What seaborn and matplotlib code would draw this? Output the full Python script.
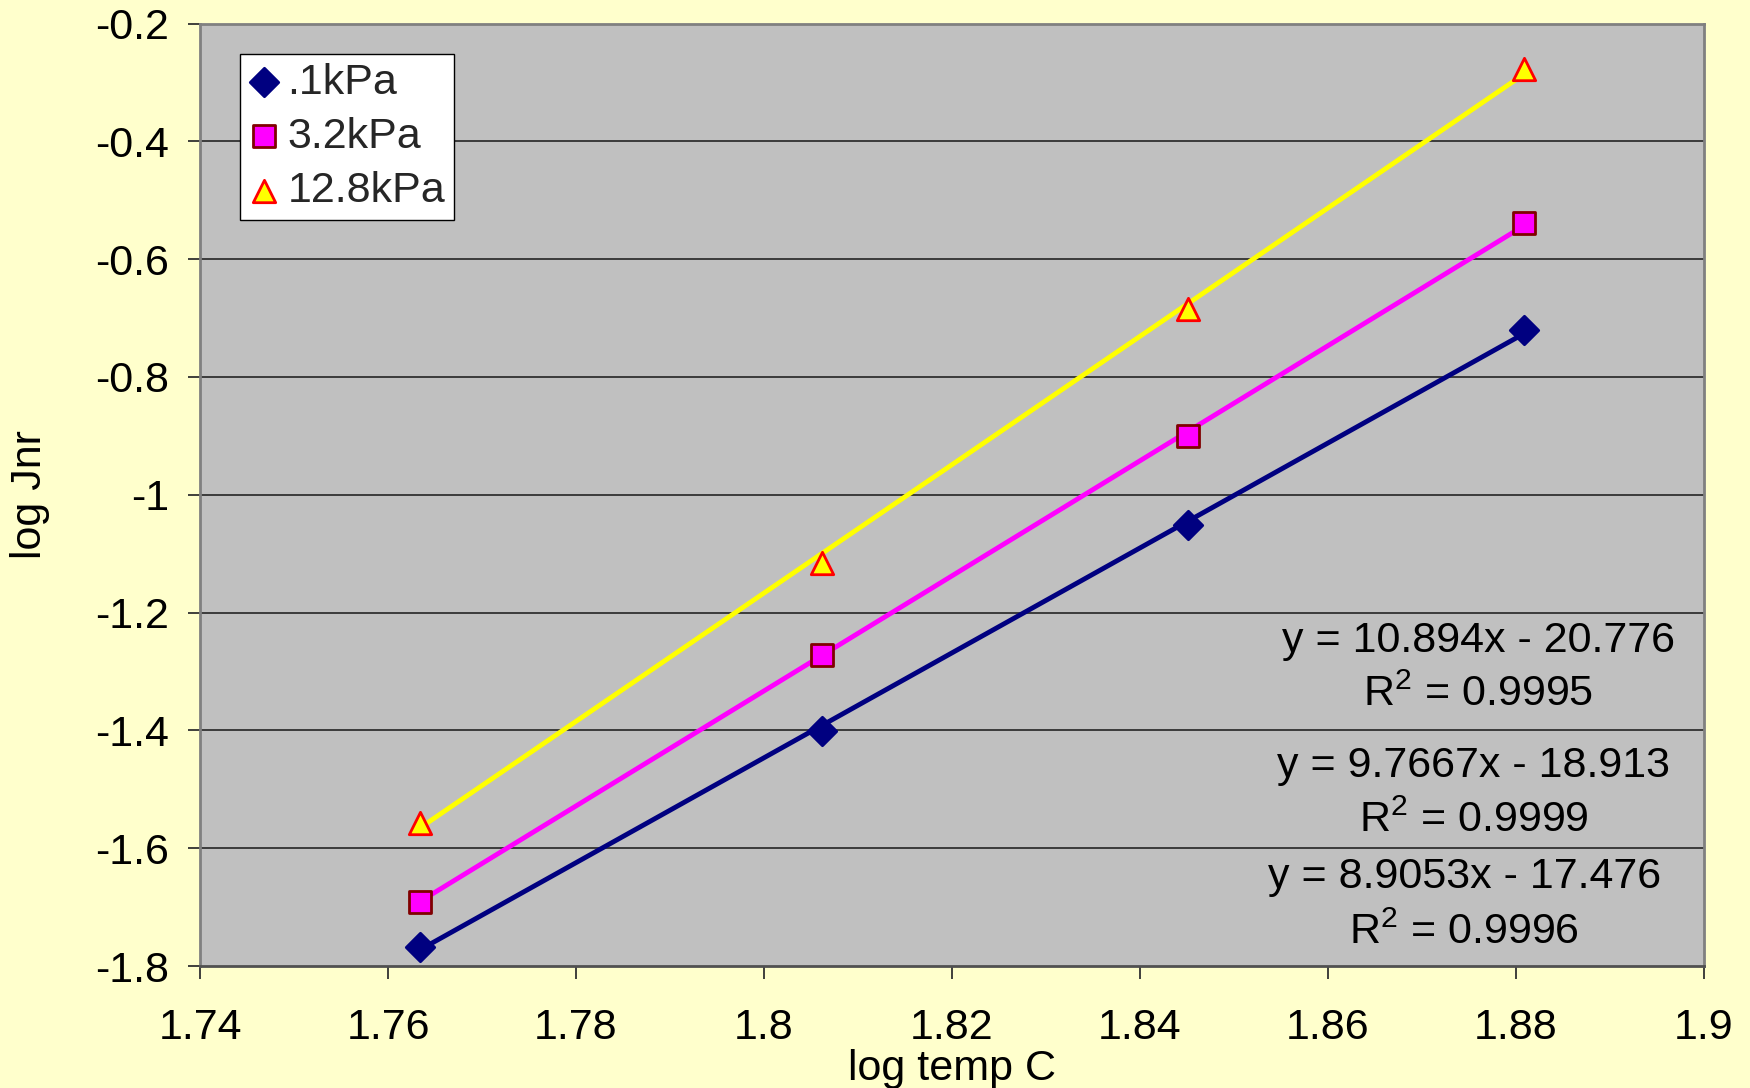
import numpy as np
import pandas as pd
import matplotlib
matplotlib.use("Agg")
import matplotlib.pyplot as plt
import seaborn as sns

# log of test temperature (deg C) and log of non-recoverable compliance
log_temp = [1.7634, 1.8062, 1.8451, 1.8808]
jnr_0_1 = [-1.768, -1.401, -1.052, -0.721]
jnr_3_2 = [-1.691, -1.272, -0.901, -0.539]
jnr_12_8 = [-1.558, -1.115, -0.685, -0.278]

series_names = [".1kPa", "3.2kPa", "12.8kPa"]
slopes = [8.9053, 9.7667, 10.894]
intercepts = [-17.476, -18.913, -20.776]
r_squared = ["0.9996", "0.9999", "0.9995"]

sns.set_theme(style="white")
plt.rcParams["font.family"] = ["Liberation Sans", "DejaVu Sans"]
plt.rcParams["mathtext.fontset"] = "custom"
plt.rcParams["mathtext.rm"] = "Liberation Sans"
plt.rcParams["mathtext.it"] = "Liberation Sans"

FS = 31

fig = plt.figure(figsize=(17.5, 10.88), dpi=100, facecolor="#FFFFCC")
ax = fig.add_axes([0.1143, 0.1121, 0.8594, 0.8663])
ax.set_facecolor("#C0C0C0")

ax.set_xlim(1.74, 1.9)
ax.set_ylim(-1.8, -0.2)
xticks = np.round(np.arange(1.74, 1.901, 0.02), 2)
yticks = np.round(np.arange(-1.8, -0.19, 0.2), 1)
ax.set_xticks(xticks)
ax.set_yticks(yticks)

# horizontal gridlines
for yv in yticks[1:-1]:
    ax.axhline(yv, color="#303030", lw=1.3, zorder=1)

data = pd.DataFrame({
    "x": log_temp * 3,
    "y": jnr_0_1 + jnr_3_2 + jnr_12_8,
    "series": np.repeat(series_names, len(log_temp)),
})

line_colors = ["#000080", "#FF00FF", "#FFFF00"]
face_colors = ["#000080", "#FF00FF", "#FFFF00"]
edge_colors = ["#000080", "#800000", "#FF0000"]
markers = ["D", "s", "^"]
sizes = [210, 230, 260]

# linear trendlines from the fitted coefficients
x_fit = np.array([log_temp[0], log_temp[-1]])
for name, m, b, c in zip(series_names, slopes, intercepts, line_colors):
    fit = pd.DataFrame({"x": x_fit, "y": m * x_fit + b})
    sns.lineplot(data=fit, x="x", y="y", color=c, lw=3.5, ax=ax, zorder=3,
                 legend=False)

for name, fc, ec, mk, s in zip(series_names, face_colors, edge_colors, markers, sizes):
    sub = data[data["series"] == name]
    sns.scatterplot(data=sub, x="x", y="y", marker=mk, s=s, color=fc,
                    edgecolor=ec, linewidth=2, ax=ax, zorder=4, label=name)

# trendline equations
eq_pos = [(1.8745, -1.649, -1.744), (1.8755, -1.460, -1.553), (1.876, -1.2475, -1.340)]
for (xp, y1, y2), m, b, r2 in zip(eq_pos, slopes, intercepts, r_squared):
    ax.text(xp, y1, f"y = {m:g}x - {abs(b):g}", ha="center", va="center",
            fontsize=FS, color="black", zorder=5)
    ax.text(xp, y2, r"R$^2$" + f" = {r2}", ha="center", va="center",
            fontsize=FS, color="black", zorder=5)

leg = ax.legend(loc="upper left", bbox_to_anchor=(0.0266, 0.9677),
                borderaxespad=0, fontsize=FS, frameon=True, fancybox=False,
                handletextpad=0.2, handlelength=0.7, borderpad=0.2,
                labelspacing=0.33, framealpha=1)
leg.get_frame().set_edgecolor("black")
leg.get_frame().set_linewidth(1.0)
leg.get_frame().set_facecolor("white")
leg.set_zorder(6)

for side in ["left", "right", "top", "bottom"]:
    ax.spines[side].set_visible(True)
    ax.spines[side].set_color("#808080")
    ax.spines[side].set_linewidth(2)
ax.spines["bottom"].set_color("#505050")

ax.tick_params(axis="both", which="both", direction="out", length=9,
               width=1.3, color="#303030", labelsize=FS, labelcolor="black",
               left=True, bottom=True)
ax.tick_params(axis="y", pad=13)
ax.tick_params(axis="x", pad=21)
ax.set_xticklabels([f"{v:g}" for v in xticks])
ax.set_yticklabels([f"{v:g}" for v in yticks])

ax.set_xlabel("log temp C", fontsize=FS, color="black")
ax.set_ylabel("log Jnr", fontsize=FS, color="black")
ax.xaxis.set_label_coords(0.5, -0.088)
ax.yaxis.set_label_coords(-0.1, 0.5)

fig.savefig("out.png", dpi=100, facecolor=fig.get_facecolor())
